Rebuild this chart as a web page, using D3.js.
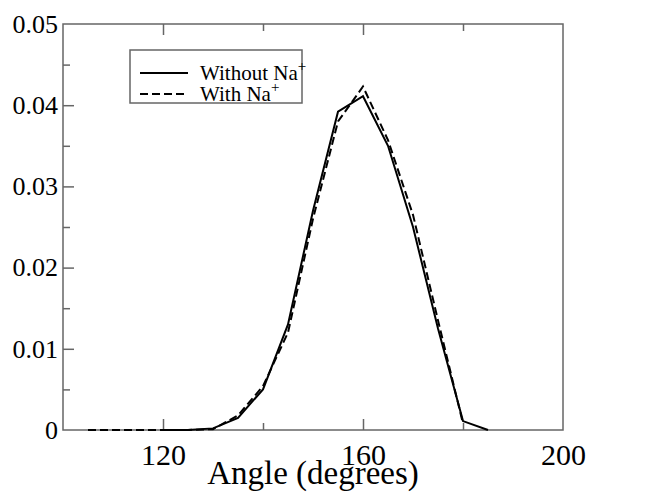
<!DOCTYPE html>
<html>
<head>
<meta charset="utf-8">
<script src="https://cdn.jsdelivr.net/npm/d3@7"></script>
<style>
  body { margin: 0; background: #fff; }
  svg text { font-family: "Liberation Serif", "Times New Roman", serif !important; fill: #000; }
</style>
</head>
<body>
<div id="container"><svg></svg></div>
<script>
const W = 648, H = 492;
const margin = {left: 63, right: 85, top: 24, bottom: 62};

// angle bins (degrees) and distributions
const anglesWithout = [120, 125, 130, 135, 140, 145, 150, 155, 160, 165, 170, 175, 180, 185];
const valuesWithout = [0, 0, 0.0002, 0.0015, 0.005, 0.013, 0.027, 0.0392, 0.0411, 0.035, 0.025, 0.0125, 0.0011, 0];
const anglesWith = [105, 110, 115, 120, 125, 130, 135, 140, 145, 150, 155, 160, 165, 170, 175, 180];
const valuesWith = [0, 0, 0, 0, 0, 0.0001, 0.0018, 0.0054, 0.012, 0.026, 0.038, 0.0423, 0.0357, 0.0265, 0.0135, 0.0008];

const xMajor = [120, 160, 200];
const xMinor = [140, 180];
const yMajor = [0, 0.01, 0.02, 0.03, 0.04, 0.05];
const yMinor = [0.005, 0.015, 0.025, 0.035, 0.045];

const AXIS_COLOR = '#666';
const SERIF = '"Liberation Serif", "Times New Roman", serif';

let svg = d3.select('svg').attr('width', W).attr('height', H);

let x = d3.scaleLinear().domain([100, 200]).range([margin.left, W - margin.right]);
let y = d3.scaleLinear().domain([0, 0.05]).range([H - margin.bottom, margin.top]);

// frame: left, bottom, top (no right ticks)
svg.append('rect')
    .attr('x', x(100)).attr('y', y(0.05))
    .attr('width', x(200) - x(100)).attr('height', y(0) - y(0.05))
    .attr('fill', 'none').attr('stroke', AXIS_COLOR).attr('stroke-width', 1.5);

function styleTicks(g) {
    g.select('.domain').remove();
    g.attr('font-family', SERIF);
    g.selectAll('.tick line').attr('stroke', AXIS_COLOR).attr('stroke-width', 1.5);
}

// bottom axis, ticks inward
let gx = svg.append('g').attr('transform', `translate(0,${y(0)})`)
    .call(d3.axisBottom(x).tickValues(xMajor).tickSize(-11).tickPadding(14).tickFormat(d3.format('d')));
styleTicks(gx);
gx.selectAll('.tick text').attr('font-size', 30).style('font-family', SERIF);
gx.selectAll('.tick').filter(d => d === 200).select('line').remove();

let gxm = svg.append('g').attr('transform', `translate(0,${y(0)})`)
    .call(d3.axisBottom(x).tickValues(xMinor).tickSize(-7).tickFormat(''));
styleTicks(gxm);

// top axis, ticks inward
let gt = svg.append('g').attr('transform', `translate(0,${y(0.05)})`)
    .call(d3.axisTop(x).tickValues(xMajor.filter(d => d < 200)).tickSize(-11).tickFormat(''));
styleTicks(gt);
let gtm = svg.append('g').attr('transform', `translate(0,${y(0.05)})`)
    .call(d3.axisTop(x).tickValues(xMinor).tickSize(-7).tickFormat(''));
styleTicks(gtm);

// left axis
let gy = svg.append('g').attr('transform', `translate(${x(100)},0)`)
    .call(d3.axisLeft(y).tickValues(yMajor).tickSize(-11).tickPadding(5)
        .tickFormat(d => d === 0 ? '0' : d3.format('.2f')(d)));
styleTicks(gy);
gy.selectAll('.tick text').attr('font-size', 26).style('font-family', SERIF);
gy.selectAll('.tick').filter(d => d === 0 || d === 0.05).select('line').remove();
let gym = svg.append('g').attr('transform', `translate(${x(100)},0)`)
    .call(d3.axisLeft(y).tickValues(yMinor).tickSize(-7).tickFormat(''));
styleTicks(gym);

// axis title
svg.append('text')
    .attr('x', (x(100) + x(200)) / 2).attr('y', 484)
    .attr('text-anchor', 'middle').attr('font-size', 33)
    .text('Angle (degrees)');

// series lines
let line = d3.line().x(d => x(d[0])).y(d => y(d[1]));
svg.append('path')
    .datum(d3.zip(anglesWithout, valuesWithout))
    .attr('d', line).attr('fill', 'none')
    .attr('stroke', '#000').attr('stroke-width', 2);
svg.append('path')
    .datum(d3.zip(anglesWith, valuesWith))
    .attr('d', line).attr('fill', 'none')
    .attr('stroke', '#000').attr('stroke-width', 2).attr('stroke-dasharray', '8,4');

// legend
let legend = svg.append('g');
legend.append('rect')
    .attr('x', 130).attr('y', 50).attr('width', 172).attr('height', 53)
    .attr('fill', '#fff').attr('stroke', AXIS_COLOR).attr('stroke-width', 1.5);
const legendItems = [
    {label: 'Without Na', dash: null},
    {label: 'With Na', dash: '8,4'}
];
legendItems.forEach((it, i) => {
    let cy = 73 + i * 21;
    legend.append('line')
        .attr('x1', 140).attr('x2', 188).attr('y1', cy).attr('y2', cy)
        .attr('stroke', '#000').attr('stroke-width', 2)
        .attr('stroke-dasharray', it.dash);
    let t = legend.append('text')
        .attr('x', 200).attr('y', cy + 7).attr('font-size', 21);
    t.append('tspan').text(it.label);
    t.append('tspan').attr('dy', -9).attr('font-size', 15).text('+');
});
</script>
</body>
</html>
